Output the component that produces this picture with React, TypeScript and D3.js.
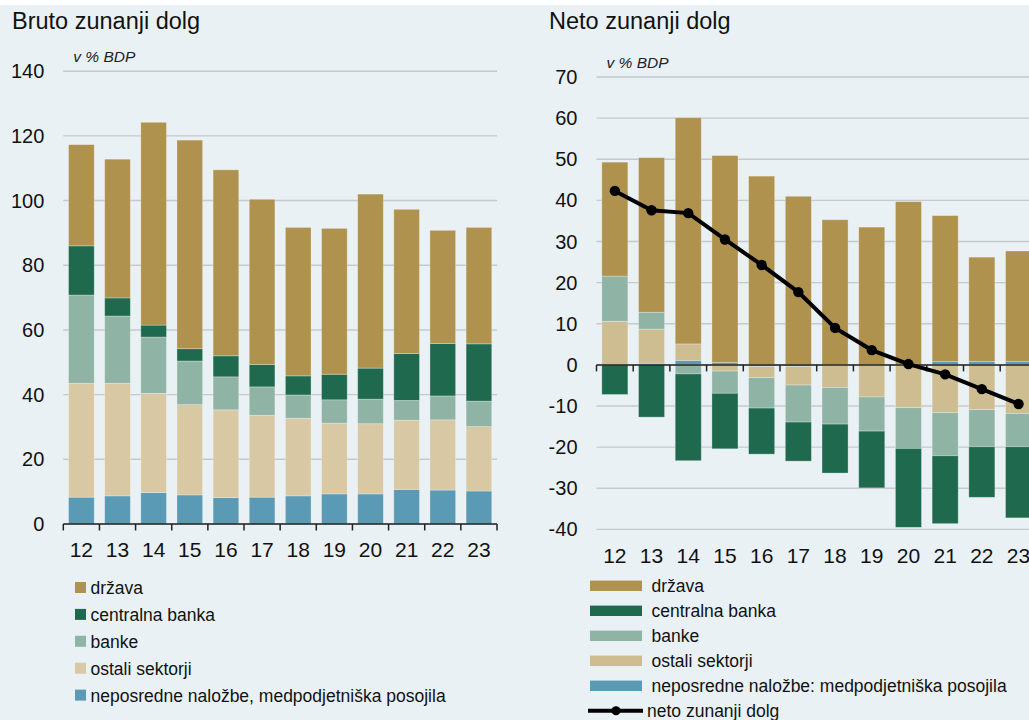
import React, { useEffect, useRef } from "react";
import * as d3 from "d3";

const years = ["12", "13", "14", "15", "16", "17", "18", "19", "20", "21", "22", "23"];

// bruto zunanji dolg, v % BDP
const grossNeposredne = [8.3, 8.7, 9.7, 9.0, 8.2, 8.3, 8.7, 9.3, 9.3, 10.7, 10.5, 10.2];
const grossOstali = [35.2, 34.8, 30.7, 27.9, 27.1, 25.3, 24.0, 21.9, 21.7, 21.4, 21.7, 19.9];
const grossBanke = [27.3, 20.8, 17.4, 13.5, 10.2, 8.8, 7.2, 7.2, 7.6, 6.1, 7.4, 7.9];
const grossCentralna = [15.2, 5.6, 3.7, 3.8, 6.5, 6.9, 5.9, 7.9, 9.6, 14.5, 16.2, 17.7];
const grossDrzava = [31.3, 42.9, 62.7, 64.5, 57.5, 51.1, 45.9, 45.1, 53.8, 44.6, 35.0, 36.0];

// neto zunanji dolg, v % BDP
const netNeposredne = [0, 0.4, 1.1, 0.6, -0.4, -0.4, 0, 0, 0, 0.8, 0.8, 0.8];
const netOstali = [10.6, 8.3, 4.0, -1.5, -2.7, -4.5, -5.5, -7.8, -10.4, -11.6, -10.9, -11.8];
const netBanke = [11.0, 4.1, -2.2, -5.4, -7.4, -9.0, -8.9, -8.3, -9.9, -10.5, -9.0, -8.1];
const netCentralna = [-7.2, -12.7, -21.1, -13.5, -11.2, -9.5, -11.9, -13.8, -19.2, -16.5, -12.3, -17.3];
const netDrzava = [27.7, 37.6, 55.0, 50.3, 45.9, 41.0, 35.3, 33.5, 39.7, 35.5, 25.4, 26.9];
const netTotal = [42.3, 37.6, 36.9, 30.5, 24.3, 17.7, 9.0, 3.6, 0.2, -2.3, -5.9, -9.5];

const grossTicks = [0, 20, 40, 60, 80, 100, 120, 140];
const netTicks = [-40, -30, -20, -10, 0, 10, 20, 30, 40, 50, 60, 70];

const keys = ["neposredne", "ostali", "banke", "centralna", "drzava"];
const grossColors = { neposredne: "#5b9ab4", ostali: "#d8c8a3", banke: "#8fb4a6", centralna: "#1f6a4f", drzava: "#b0924f" };
const netColors = { neposredne: "#5b9ab4", ostali: "#cfbd92", banke: "#8fb4a6", centralna: "#1f6a4f", drzava: "#b0924f" };

const grossLegend = ["država", "centralna banka", "banke", "ostali sektorji", "neposredne naložbe, medpodjetniška posojila"];
const netLegend = ["država", "centralna banka", "banke", "ostali sektorji", "neposredne naložbe: medpodjetniška posojila"];
const legendKeys = ["drzava", "centralna", "banke", "ostali", "neposredne"];

const FONT = "'Liberation Sans', Arial, sans-serif";
const NARROW = "'Liberation Sans Narrow', 'Arial Narrow', 'Liberation Sans', sans-serif";

function drawPanel(svg, opts) {
  const g = svg.append("g");
  const rows = years.map((y, i) => {
    const r = { year: y };
    keys.forEach((k) => (r[k] = opts.series[k][i]));
    return r;
  });

  const x = d3.scaleBand().domain(years).range([opts.x0, opts.x1]).paddingInner(0.29).paddingOuter(0.145);
  const y = d3.scaleLinear().domain(opts.domain).range([opts.yBottom, opts.yTop]);

  // title and unit
  g.append("text")
    .attr("x", opts.titleX)
    .attr("y", 29)
    .attr("font-size", 23.5)
    .attr("fill", "#111")
    .text(opts.title);
  g.append("text")
    .attr("x", opts.x0 + 10)
    .attr("y", opts.yTop - 9)
    .attr("font-size", 15.5)
    .attr("font-style", "italic")
    .attr("fill", "#222")
    .text("v % BDP");

  // grid
  g.selectAll(".grid")
    .data(opts.ticks)
    .enter()
    .append("line")
    .attr("x1", opts.x0)
    .attr("x2", opts.gridEnd)
    .attr("y1", (d) => y(d))
    .attr("y2", (d) => y(d))
    .attr("stroke", "#c6c9cb")
    .attr("stroke-width", 1.4);

  g.selectAll(".ylab")
    .data(opts.ticks)
    .enter()
    .append("text")
    .attr("x", opts.x0 - 19)
    .attr("y", (d) => y(d) + 7)
    .attr("text-anchor", "end")
    .attr("font-size", 20)
    .attr("font-family", NARROW)
    .attr("fill", "#111")
    .text((d) => d);

  // bars
  const stacked = d3.stack().keys(keys).offset(d3.stackOffsetDiverging)(rows);
  g.selectAll(".layer")
    .data(stacked)
    .enter()
    .append("g")
    .attr("fill", (s) => opts.colors[s.key])
    .selectAll("rect")
    .data((s) => s)
    .enter()
    .append("rect")
    .attr("x", (d) => x(d.data.year))
    .attr("width", x.bandwidth())
    .attr("y", (d) => y(Math.max(d[0], d[1])))
    .attr("height", (d) => Math.abs(y(d[0]) - y(d[1])))
    .attr("stroke", "rgba(255,255,255,0.35)")
    .attr("stroke-width", 0.8);

  // zero axis with ticks
  const axis = g.append("g").attr("transform", `translate(0, ${y(0)})`);
  axis.append("line")
    .attr("x1", opts.x0)
    .attr("x2", opts.gridEnd)
    .attr("stroke", "#222")
    .attr("stroke-width", 1.5);
  const bounds = d3.range(years.length + 1).map((i) => opts.x0 + i * x.step());
  axis.selectAll(".tick")
    .data(bounds)
    .enter()
    .append("line")
    .attr("x1", (d) => d)
    .attr("x2", (d) => d)
    .attr("y1", 0)
    .attr("y2", 6.5)
    .attr("stroke", "#222")
    .attr("stroke-width", 1.5);

  g.selectAll(".xlab")
    .data(years)
    .enter()
    .append("text")
    .attr("x", (d) => x(d) + x.bandwidth() / 2)
    .attr("y", opts.xLabelY)
    .attr("text-anchor", "middle")
    .attr("font-size", 21)
    .attr("font-family", NARROW)
    .attr("fill", "#111")
    .text((d) => d);

  return { x, y, g };
}

export default function App() {
  const ref = useRef(null);

  useEffect(() => {
    const svg = d3.select(ref.current);
    svg.selectAll("*").remove();

    svg.append("rect").attr("x", 0).attr("y", 0).attr("width", 1029).attr("height", 720).attr("fill", "#ffffff");
    svg.append("rect").attr("x", 0).attr("y", 5).attr("width", 1029).attr("height", 715).attr("fill", "#e9f1f5");

    // levi panel: bruto
    drawPanel(svg, {
      title: "Bruto zunanji dolg",
      titleX: 12,
      x0: 63.3,
      x1: 497,
      gridEnd: 497,
      yTop: 71.2,
      yBottom: 524,
      domain: [0, 140],
      ticks: grossTicks,
      xLabelY: 557,
      colors: grossColors,
      series: {
        neposredne: grossNeposredne,
        ostali: grossOstali,
        banke: grossBanke,
        centralna: grossCentralna,
        drzava: grossDrzava,
      },
    });

    // desni panel: neto
    const net = drawPanel(svg, {
      title: "Neto zunanji dolg",
      titleX: 549,
      x0: 596.5,
      x1: 596.5 + 12 * 36.7,
      gridEnd: 1029,
      yTop: 77,
      yBottom: 529.4,
      domain: [-40, 70],
      ticks: netTicks,
      xLabelY: 563,
      colors: netColors,
      series: {
        neposredne: netNeposredne,
        ostali: netOstali,
        banke: netBanke,
        centralna: netCentralna,
        drzava: netDrzava,
      },
    });

    const line = d3.line()
      .x((d, i) => net.x(years[i]) + net.x.bandwidth() / 2)
      .y((d) => net.y(d));
    net.g.append("path")
      .datum(netTotal)
      .attr("d", line)
      .attr("fill", "none")
      .attr("stroke", "#000")
      .attr("stroke-width", 4);
    net.g.selectAll(".dot")
      .data(netTotal)
      .enter()
      .append("circle")
      .attr("cx", (d, i) => net.x(years[i]) + net.x.bandwidth() / 2)
      .attr("cy", (d) => net.y(d))
      .attr("r", 5.2)
      .attr("fill", "#000");

    // legenda levo
    const legL = svg.append("g");
    legendKeys.forEach((k, i) => {
      const cy = 587.5 + i * 26.9;
      legL.append("rect").attr("x", 75).attr("y", cy - 5.5).attr("width", 11).attr("height", 11).attr("fill", grossColors[k]);
      legL.append("text").attr("x", 90.5).attr("y", cy + 6.5).attr("font-size", 17.5).attr("fill", "#111").text(grossLegend[i]);
    });

    // legenda desno
    const legR = svg.append("g");
    legendKeys.forEach((k, i) => {
      const cy = 585.8 + i * 25;
      legR.append("rect").attr("x", 590).attr("y", cy - 5.2).attr("width", 52).attr("height", 10.4).attr("fill", netColors[k]);
      legR.append("text").attr("x", 651.5).attr("y", cy + 6.5).attr("font-size", 17.5).attr("fill", "#111").text(netLegend[i]);
    });
    const ly = 585.8 + 5 * 25;
    legR.append("line").attr("x1", 588).attr("x2", 643).attr("y1", ly).attr("y2", ly).attr("stroke", "#000").attr("stroke-width", 4);
    legR.append("circle").attr("cx", 616).attr("cy", ly).attr("r", 4.5).attr("fill", "#000");
    legR.append("text").attr("x", 647).attr("y", ly + 6.5).attr("font-size", 17.5).attr("fill", "#111").text("neto zunanji dolg");
  }, []);

  return (
    <svg
      ref={ref}
      width={1029}
      height={720}
      style={{ position: "absolute", left: 0, top: 0, fontFamily: FONT }}
    />
  );
}
